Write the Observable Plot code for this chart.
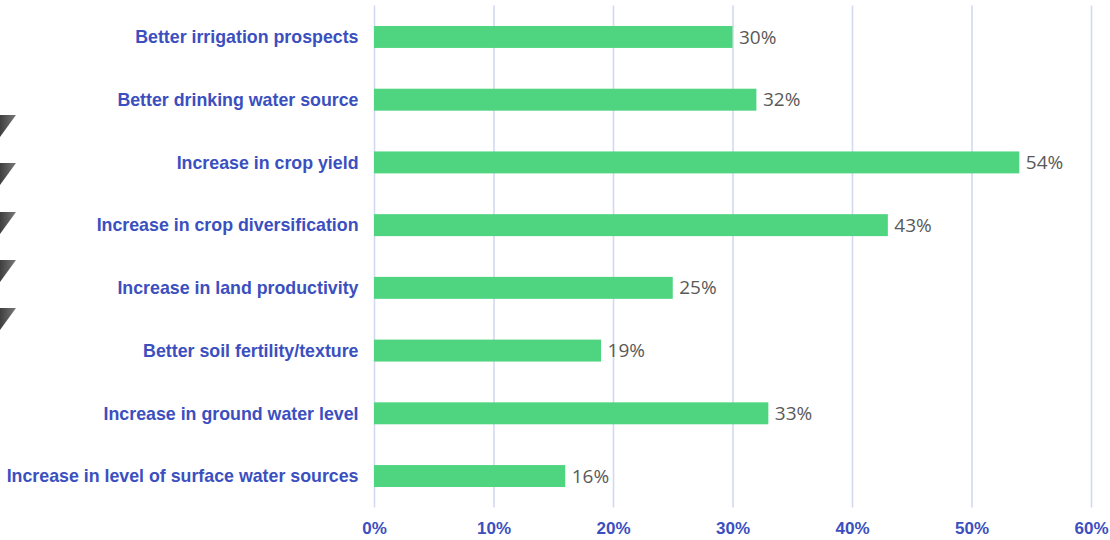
<!DOCTYPE html>
<html>
<head>
<meta charset="utf-8">
<script src="https://cdn.jsdelivr.net/npm/d3@7"></script>
<script src="https://cdn.jsdelivr.net/npm/@observablehq/plot@0.6"></script>
<style>
  html, body { margin: 0; padding: 0; background: #ffffff; }
  #wrap { position: relative; width: 1110px; height: 540px; overflow: hidden; }
  .tri { position: absolute; left: 0; width: 16px; height: 22px;
         background: linear-gradient(to right, #3f3f3f, #7a7a7a);
         clip-path: polygon(0 0, 100% 0, 0 100%); }
  #chart { position: absolute; left: 0; top: 0; }
</style>
</head>
<body>
<div id="wrap">
  <div id="chart"></div>
  <div class="tri" style="top:115px"></div>
  <div class="tri" style="top:163px"></div>
  <div class="tri" style="top:212px"></div>
  <div class="tri" style="top:260px"></div>
  <div class="tri" style="top:308px"></div>
</div>
<script>
const categories = [
  "Better irrigation prospects",
  "Better drinking water source",
  "Increase in crop yield",
  "Increase in crop diversification",
  "Increase in land productivity",
  "Better soil fertility/texture",
  "Increase in ground water level",
  "Increase in level of surface water sources"
];
const values = [30, 32, 54, 43, 25, 19, 33, 16];
const xTicks = [0, 10, 20, 30, 40, 50, 60];

const data = categories.map((c, i) => ({category: c, value: values[i]}));

const blue = "#3b4fbf";

const chart = Plot.plot({
  width: 1110,
  height: 540,
  marginTop: 5.6,
  marginBottom: 32.6,
  marginLeft: 374,
  marginRight: 19,
  style: {fontFamily: "'Liberation Sans', Arial, sans-serif", background: "transparent"},
  x: {domain: [0, 60]},
  y: {domain: categories, paddingInner: 0.65, paddingOuter: 0.325, round: false},
  marks: [
    Plot.ruleX(xTicks, {x: d => d, stroke: "#d4d9f0", strokeWidth: 1.6}),
    Plot.barX(data, {x: "value", y: "category", fill: "#4fd480"}),
    Plot.text(data, {
      x: "value", y: "category", text: d => d.value + "%",
      dx: 6, textAnchor: "start", fill: "#595959",
      fontSize: 19, fontFamily: "'Open Sans', sans-serif"
    }),
    Plot.axisX({
      ticks: xTicks, tickFormat: d => d + "%", tickSize: 0, tickPadding: 14,
      color: blue, fontSize: 17, fontWeight: "bold", label: null
    }),
    Plot.axisY({
      tickSize: 0, tickPadding: 16, color: blue, fontSize: 17.8,
      fontWeight: "bold", label: null
    })
  ]
});
document.getElementById("chart").appendChild(chart);
</script>
</body>
</html>
